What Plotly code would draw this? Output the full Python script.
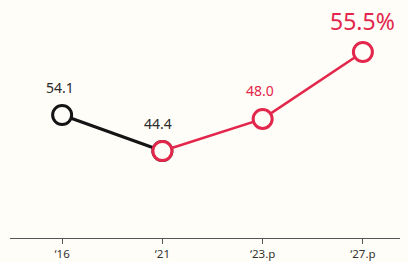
import plotly.graph_objects as go

categories = ["‘16", "‘21", "‘23.p", "‘27.p"]
actual_x = ["‘16", "‘21"]
actual_vals = [54.1, 44.4]
proj_x = ["‘21", "‘23.p", "‘27.p"]
proj_vals = [44.4, 48.0, 55.5]
labels_actual = ["54.1", "44.4"]
labels_proj = ["48.0", "55.5%"]

BLACK = "#141414"
RED = "#E3264B"
BG = "#FFFDF7"

fig = go.Figure()
fig.add_trace(go.Scatter(
    x=proj_x, y=proj_vals, yaxis="y2", mode="lines+markers",
    line=dict(color=RED, width=2.6),
    marker=dict(size=19, color=BG, line=dict(color=RED, width=3)),
    hoverinfo="skip", cliponaxis=False))
fig.add_trace(go.Scatter(
    x=actual_x, y=actual_vals, mode="lines+markers",
    line=dict(color=BLACK, width=3),
    marker=dict(size=19, color=BG, line=dict(color=BLACK, width=3)),
    hoverinfo="skip", cliponaxis=False))

annotations = []
for i, (x, v) in enumerate(zip(actual_x, actual_vals)):
    annotations.append(dict(x=x, y=v, xref="x", yref="y", text=labels_actual[i],
                            showarrow=False, yshift=28, xshift=-4 if i == 1 else -2,
                            font=dict(size=14, color="#2a2a2a", family="Noto Sans")))
annotations.append(dict(x=proj_x[1], y=proj_vals[1], xref="x", yref="y2", text=labels_proj[0],
                        showarrow=False, yshift=28, xshift=-3,
                        font=dict(size=14, color=RED, family="Noto Sans")))
annotations.append(dict(x=proj_x[2], y=proj_vals[2], xref="x", yref="y2", text=labels_proj[1],
                        showarrow=False, yshift=31, xshift=0,
                        font=dict(size=23, color=RED, family="Noto Sans")))

fig.update_layout(
    width=408, height=262,
    margin=dict(l=10, r=8, t=0, b=24),
    paper_bgcolor=BG, plot_bgcolor=BG,
    showlegend=False,
    annotations=annotations,
    xaxis=dict(type="category", categoryorder="array", categoryarray=categories,
               range=[-0.52, 3.37], showgrid=False, zeroline=False,
               showline=True, linecolor="#555", linewidth=1.2,
               ticks="outside", ticklen=5, tickcolor="#555", tickwidth=1.2,
               tickfont=dict(size=11.5, color="#333", family="Noto Sans")),
    yaxis=dict(range=[20.96, 85.09], visible=False, showgrid=False),
    yaxis2=dict(range=[34.65, 61.33], overlaying="y", visible=False, showgrid=False),
)

fig.write_html("out.html", config={"displayModeBar": False},
               post_script="document.body.style.margin='0';document.body.style.background='%s';" % BG)
